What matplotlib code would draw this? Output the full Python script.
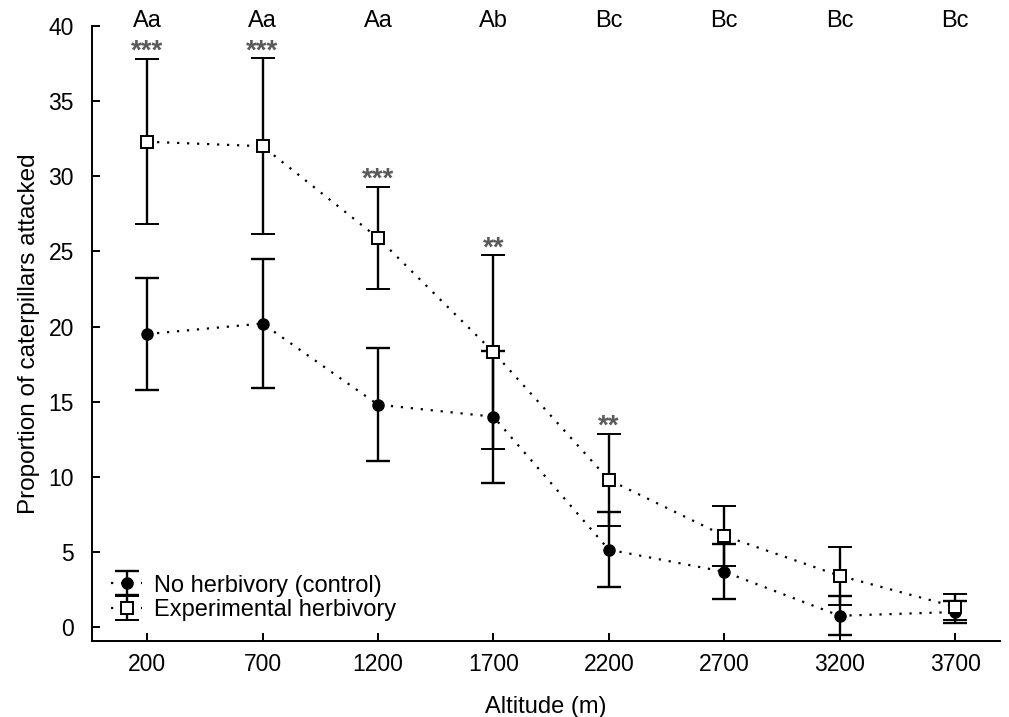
import numpy as np
import matplotlib.pyplot as plt

plt.rcParams['font.family'] = ['Liberation Sans', 'DejaVu Sans']

# Datos
altitudes = ['200', '700', '1200', '1700', '2200', '2700', '3200', '3700']
control = [19.5, 20.2, 14.8, 14.0, 5.15, 3.68, 0.75, 1.0]
control_err = [3.75, 4.3, 3.75, 4.4, 2.5, 1.82, 1.3, 0.72]
experimental = [32.3, 32.0, 25.9, 18.3, 9.8, 6.07, 3.41, 1.35]
experimental_err = [5.5, 5.85, 3.4, 6.45, 3.05, 1.98, 1.93, 0.85]
letras = ['Aa', 'Aa', 'Aa', 'Ab', 'Bc', 'Bc', 'Bc', 'Bc']
estrellas = ['***', '***', '***', '**', '**', '', '', '']

x = np.arange(len(altitudes))

fig = plt.figure(figsize=(10.09, 7.17), dpi=100)
ax = fig.add_axes([0.0912, 0.106, 0.9, 0.8577])

punteado = (0, (1, 3.5))
ax.errorbar(x, control, yerr=control_err, fmt='o', color='black', ls=punteado,
            lw=1.6, ms=8, elinewidth=1.7, capsize=8.5, capthick=1.7,
            label='No herbivory (control)', zorder=3)
ax.errorbar(x, experimental, yerr=experimental_err, fmt='s', color='black', ls=punteado,
            lw=1.6, ms=9, mfc='white', mew=1.4, elinewidth=1.7, capsize=8.5,
            capthick=1.7, label='Experimental herbivory', zorder=4)

# Letras de significancia arriba y asteriscos
for i in range(len(x)):
    ax.text(x[i], 40.35, letras[i], ha='center', va='center', fontsize=17,
            clip_on=False)
    if estrellas[i]:
        ax.text(x[i], experimental[i] + experimental_err[i] - 0.4, estrellas[i],
                ha='center', va='bottom', fontsize=20, color='#5a5a5a',
                fontweight='bold')

ax.set_xlim(-0.477, 7.39)
ax.set_ylim(-0.93, 40)
ax.set_xticks(x)
ax.set_xticklabels(altitudes)
ax.set_yticks(np.arange(0, 41, 5))
ax.tick_params(direction='in', length=6, width=1.4, labelsize=16.5)
ax.tick_params(axis='y', pad=13)
ax.tick_params(axis='x', pad=9)
ax.spines['top'].set_visible(False)
ax.spines['right'].set_visible(False)
ax.spines['left'].set_linewidth(1.4)
ax.spines['bottom'].set_linewidth(1.4)

ax.set_xlabel('Altitude (m)', fontsize=17, labelpad=14)
ax.set_ylabel('Proportion of caterpillars attacked', fontsize=17.5, labelpad=6)

ax.legend(loc='lower left', bbox_to_anchor=(0.003, 0.005), frameon=False,
          fontsize=17, handlelength=1.3, handletextpad=0.5, labelspacing=0.12,
          borderaxespad=0.3)

plt.savefig('out.png', dpi=100)
